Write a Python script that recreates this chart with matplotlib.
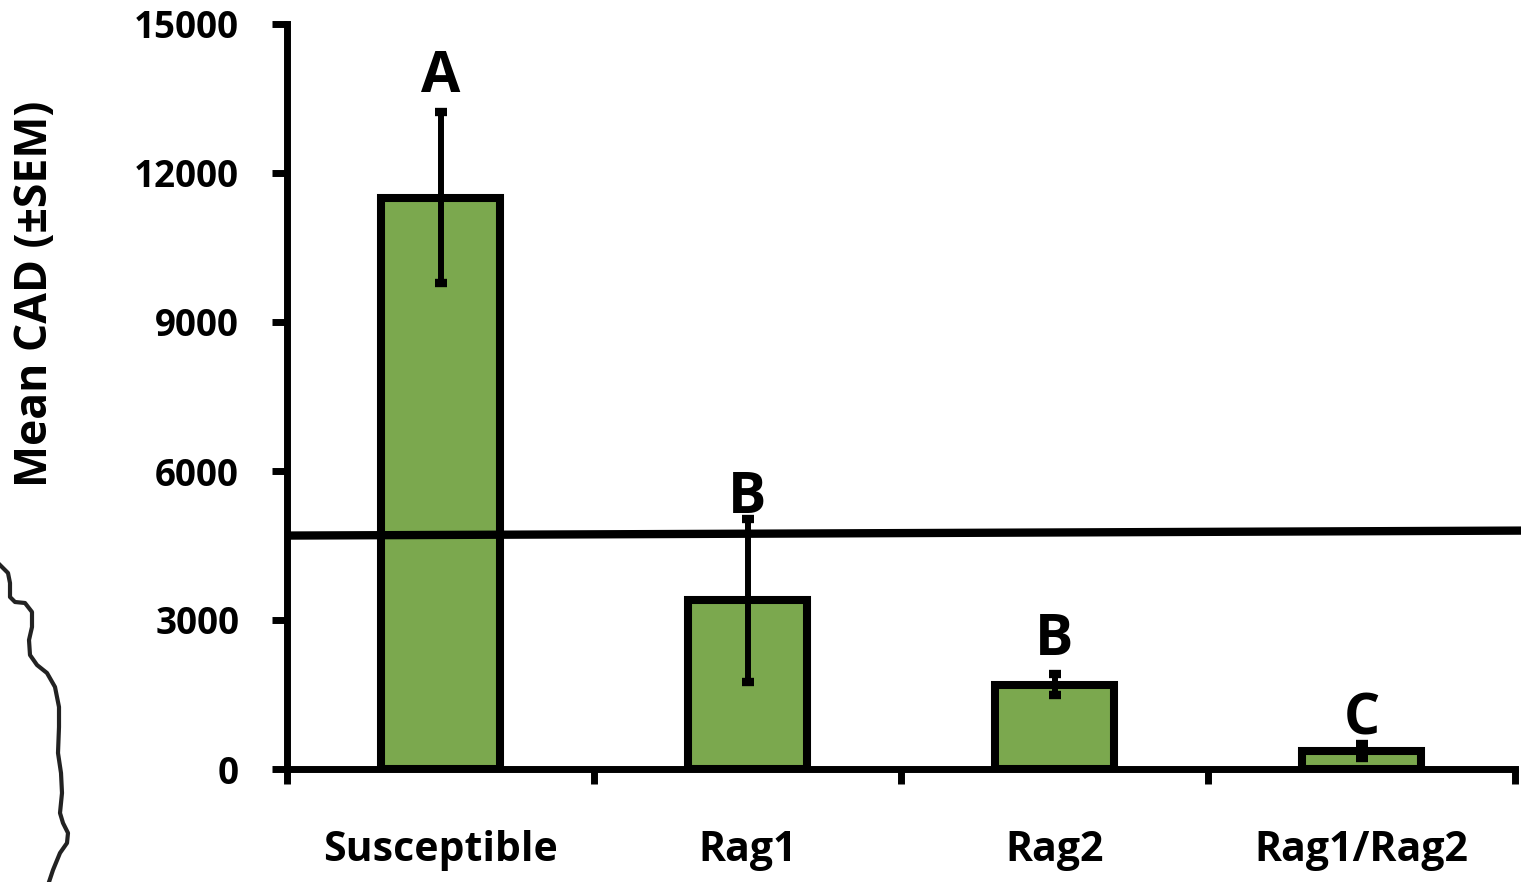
import numpy as np
import matplotlib.pyplot as plt
from matplotlib.lines import Line2D

plt.rcParams['font.family'] = ['Open Sans', 'DejaVu Sans']
plt.rcParams['font.weight'] = 'bold'

# mean CAD per line with its standard error
groups = ['Susceptible', 'Rag1', 'Rag2', 'Rag1/Rag2']
means = [11500, 3400, 1700, 360]
sems = [1720, 1640, 205, 140]
letters = ['A', 'B', 'B', 'C']
letter_y = [13630, 5155, 2295, 685]

yticks = [0, 3000, 6000, 9000, 12000, 15000]

# threshold line, slightly tilted
thresh_x = [-0.5, 3.52]
thresh_y = [4700, 4800]

# hand-drawn stroke on the left margin (figure pixels)
stroke_px = [(0, 565), (8, 573), (10, 583), (10, 597), (15, 602), (25, 603),
             (32, 612), (32, 627), (29, 640), (30, 655), (37, 665), (47, 673),
             (55, 687), (59, 707), (59, 727), (58, 753), (61, 773), (62, 793),
             (60, 813), (63, 823), (68, 833), (67, 843), (60, 853), (53, 870),
             (49, 882)]

W, H = 1521, 882
fig = plt.figure(figsize=(W / 100, H / 100), dpi=100)
ax = fig.add_axes([287 / W, 1 - 769 / H, (1515 - 287) / W, (769 - 24) / H])

x = np.arange(len(groups))
ax.bar(x, means, width=0.39, color='#7BA84E', edgecolor='black',
       linewidth=5.8, zorder=2)
ax.errorbar(x, means, yerr=sems, fmt='none', ecolor='black', elinewidth=4.3,
            capsize=4.5, capthick=6, zorder=3)

for xi, lab, ly in zip(x, letters, letter_y):
    ax.text(xi, ly, lab, ha='center', va='baseline', fontsize=41,
            fontweight='bold', zorder=4)

ax.plot(thresh_x, thresh_y, color='black', linewidth=6, clip_on=False,
        zorder=5, solid_capstyle='butt')

ax.set_xlim(-0.5, 3.5)
ax.set_ylim(0, 15000)
ax.set_yticks(yticks)
ax.set_yticklabels([str(v) for v in yticks], fontsize=26.5, fontweight='bold')

ax.set_xticks(np.arange(-0.5, 3.6, 1.0))
ax.set_xticklabels([])
ax.set_xticks(x, minor=True)
ax.set_xticklabels(groups, minor=True, fontsize=29.5, fontweight='bold')
ax.tick_params(axis='x', which='major', direction='out', length=11, width=5)
ax.tick_params(axis='x', which='minor', length=0, pad=44)
ax.tick_params(axis='y', direction='out', length=11, width=5, pad=23.5)

for side in ['top', 'right']:
    ax.spines[side].set_visible(False)
for side in ['left', 'bottom']:
    ax.spines[side].set_linewidth(5)

fig.text(36 / W, 1 - 294 / H, 'Mean CAD (±SEM)', rotation=90, ha='center',
         va='center', fontsize=32, fontweight='bold')

sx = [p[0] / W for p in stroke_px]
sy = [1 - p[1] / H for p in stroke_px]
fig.add_artist(Line2D(sx, sy, color='#222222', linewidth=3,
                      transform=fig.transFigure, solid_joinstyle='round'))

fig.savefig('out.png', dpi=100, facecolor='white')
